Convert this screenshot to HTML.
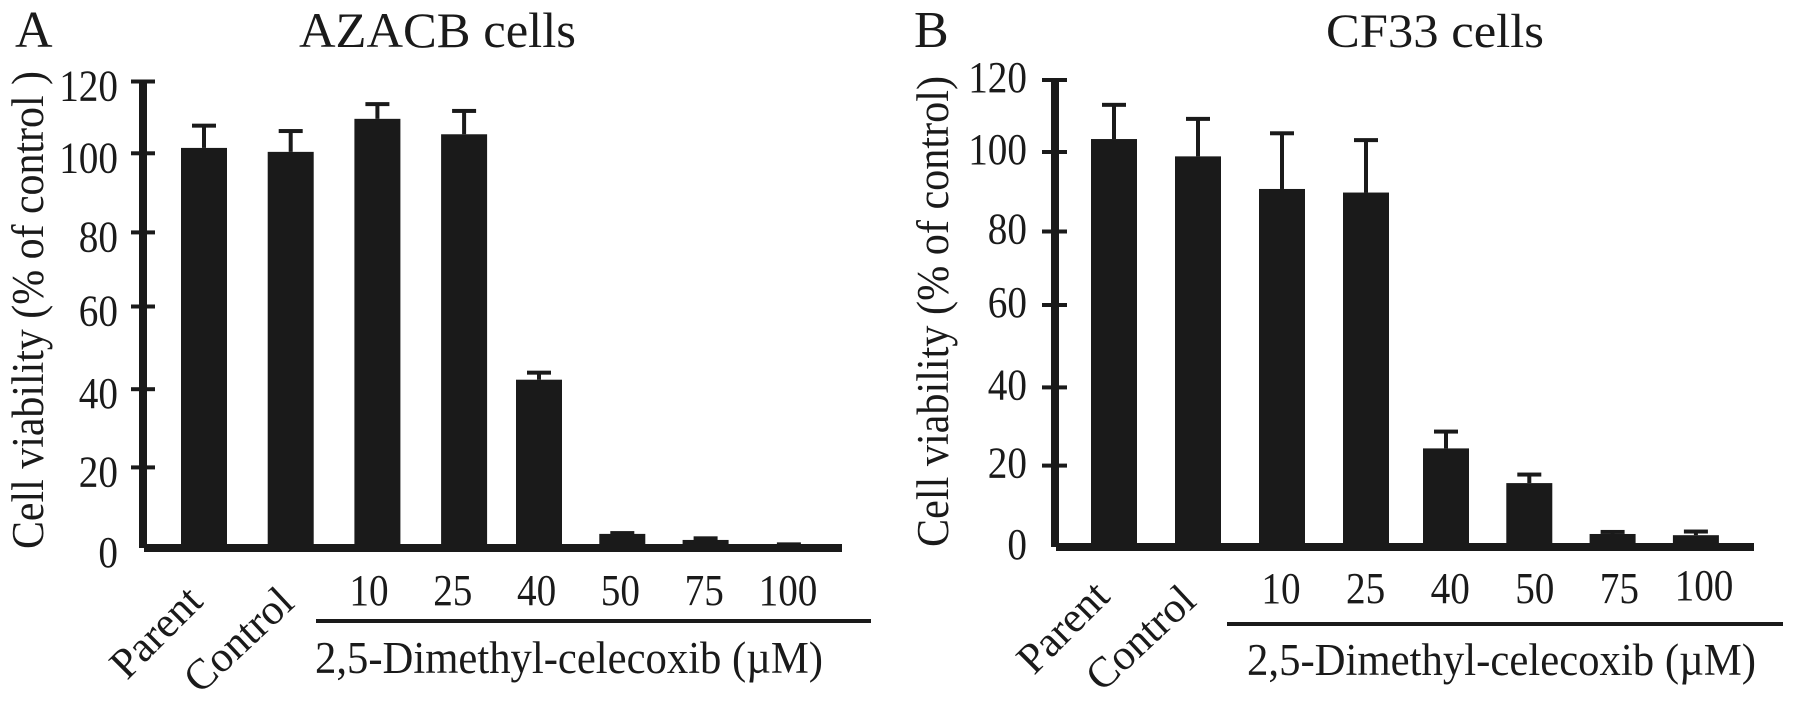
<!DOCTYPE html>
<html lang="en">
<head>
<meta charset="utf-8">
<title>2,5-Dimethyl-celecoxib cell viability</title>
<style>
  html, body { margin: 0; padding: 0; background: #fff; }
  body { width: 1795px; height: 706px; overflow: hidden; }
  svg { display: block; }
  text { font-family: "Liberation Serif", serif; fill: #1a1a1a; }
</style>
</head>
<body>
<svg id="figure" xmlns="http://www.w3.org/2000/svg" width="1795" height="706" viewBox="0 0 1795 706">
  <rect width="1795" height="706" fill="#ffffff"/>

  <g id="panel-a">
    <text x="15" y="47" font-size="52">A</text>
    <text x="299" y="47" font-size="50" textLength="277" lengthAdjust="spacingAndGlyphs">AZACB cells</text>
    <text transform="translate(43,549) rotate(-90)" font-size="45" textLength="478" lengthAdjust="spacingAndGlyphs">Cell viability (% of control )</text>
    <text transform="translate(127,681) rotate(-45)" font-size="43">Parent</text>
    <text transform="translate(200,695) rotate(-43)" font-size="43">Control</text>
    <rect x="316" y="619" width="555" height="4" fill="#1a1a1a"/>
    <text x="315" y="673" font-size="45" textLength="508" lengthAdjust="spacingAndGlyphs">2,5-Dimethyl-celecoxib (µM)</text>
  </g>

  <g id="panel-b">
    <text x="914" y="47" font-size="52">B</text>
    <text x="1326" y="47" font-size="48" textLength="218" lengthAdjust="spacingAndGlyphs">CF33 cells</text>
    <text transform="translate(948,547) rotate(-90)" font-size="45" textLength="471" lengthAdjust="spacingAndGlyphs">Cell viability (% of control)</text>
    <text transform="translate(1034,676) rotate(-45)" font-size="43">Parent</text>
    <text transform="translate(1102,693) rotate(-43)" font-size="43">Control</text>
    <rect x="1227" y="622" width="556" height="4" fill="#1a1a1a"/>
    <text x="1247" y="675" font-size="45" textLength="509" lengthAdjust="spacingAndGlyphs">2,5-Dimethyl-celecoxib (µM)</text>
  </g>
</svg>

<script>
// Chart data
const categories = ['Parent', 'Control', '10', '25', '40', '50', '75', '100'];
const doseLabels = ['10', '25', '40', '50', '75', '100'];
const yTickValues = [0, 20, 40, 60, 80, 100, 120];
const yTickLabels = ['0', '20', '40', '60', '80', '100', '120'];

const azacbMeans = [101.5, 100.4, 109.6, 105.3, 42.3, 3.5, 2, 0.7];
const azacbUpper = [107.7, 106.2, 113.7, 111.8, 44, 3.7, 2.4, 0.9];
const cf33Means = [103.6, 98.9, 90.7, 89.8, 24.4, 15.7, 3.2, 2.9];
const cf33Upper = [113.1, 109.2, 105.2, 103.3, 28.7, 17.8, 3.7, 3.8];

const SVG_NS = 'http://www.w3.org/2000/svg';
const INK = '#1a1a1a';

// Axis geometry for each panel. yCalibration maps the printed ticks to the page,
// because the hand-assembled axes in the source figure are not perfectly even.
const layoutA = {
  group: 'panel-a', prefix: 'panel-a', means: azacbMeans, upper: azacbUpper,
  yCalibration: [548, 467.4, 389.2, 306.5, 232.4, 153.3, 81.5],
  axisX: 143, axisEnd: 842, tickLeft: 131, tickRight: 155,
  labelRight: 118, labelDy: 19,
  firstGroupStart: 204, firstGroupStep: 86.7, secondGroupStart: 539, secondGroupStep: 83.3,
  doseStart: 369, doseStep: 83.8, doseBaseline: 605, lastDoseLift: 0
};
const layoutB = {
  group: 'panel-b', prefix: 'panel-b', means: cf33Means, upper: cf33Upper,
  yCalibration: [547, 465.6, 387.4, 305, 231.5, 152, 80],
  axisX: 1055, axisEnd: 1754, tickLeft: 1042, tickRight: 1067,
  labelRight: 1027, labelDy: 12,
  firstGroupStart: 1114, firstGroupStep: 84, secondGroupStart: 1446, secondGroupStep: 83.3,
  doseStart: 1281, doseStep: 84.6, doseBaseline: 603, lastDoseLift: 3
};

function yScale(layout, value) {
  const range = layout.yCalibration;
  const last = yTickValues.length - 1;
  let i = 0;
  while (i < last - 1 && value > yTickValues[i + 1]) i++;
  const t = (value - yTickValues[i]) / (yTickValues[i + 1] - yTickValues[i]);
  return range[i] + t * (range[i + 1] - range[i]);
}

function xScale(layout, index) {
  if (index < 4) return layout.firstGroupStart + index * layout.firstGroupStep;
  return layout.secondGroupStart + (index - 4) * layout.secondGroupStep;
}

function addRect(parent, x, y, width, height) {
  const r = document.createElementNS(SVG_NS, 'rect');
  r.setAttribute('x', x);
  r.setAttribute('y', y);
  r.setAttribute('width', width);
  r.setAttribute('height', height);
  r.setAttribute('fill', INK);
  parent.appendChild(r);
  return r;
}

function addText(parent, x, y, size, anchor, content) {
  const t = document.createElementNS(SVG_NS, 'text');
  t.setAttribute('x', x);
  t.setAttribute('y', y);
  t.setAttribute('font-size', size);
  t.setAttribute('text-anchor', anchor);
  t.setAttribute('textLength', content.length * 19.6);
  t.setAttribute('lengthAdjust', 'spacingAndGlyphs');
  t.textContent = content;
  parent.appendChild(t);
  return t;
}

function drawPanel(layout) {
  const g = document.getElementById(layout.group);
  const zeroY = yScale(layout, 0);
  const topY = yScale(layout, yTickValues[yTickValues.length - 1]);

  layout.means.forEach(function (mean, i) {
    const cx = xScale(layout, i);
    const barTop = yScale(layout, mean);
    const capY = yScale(layout, layout.upper[i]);

    const stem = addRect(g, cx - 2, capY, 4, Math.max(barTop - capY, 0));
    
    

    const cap = addRect(g, cx - 12, capY - 2, 24, 4);
    
    

    const bar = addRect(g, cx - 23, barTop, 46, zeroY - barTop);
    
    
  });

  const yAxis = addRect(g, layout.axisX - 4, topY - 2, 8, zeroY - topY + 2);
  
  

  const xAxis = addRect(g, layout.axisX + 1, zeroY - 4, layout.axisEnd - layout.axisX - 1, 8);
  
  

  yTickValues.forEach(function (value, i) {
    const y = yScale(layout, value);
    if (value > 0) {
      const tick = addRect(g, layout.tickLeft, y - 2, layout.tickRight - layout.tickLeft, 4);
      
      
    }
    const label = addText(g, layout.labelRight, y + layout.labelDy, 44, 'end', yTickLabels[i]);
    
    
  });

  doseLabels.forEach(function (dose, i) {
    const x = layout.doseStart + i * layout.doseStep;
    const lift = i === doseLabels.length - 1 ? layout.lastDoseLift : 0;
    const label = addText(g, x, layout.doseBaseline - lift, 44, 'middle', dose);
    
    
  });
}

drawPanel(layoutA);
drawPanel(layoutB);
</script>
</body>
</html>
